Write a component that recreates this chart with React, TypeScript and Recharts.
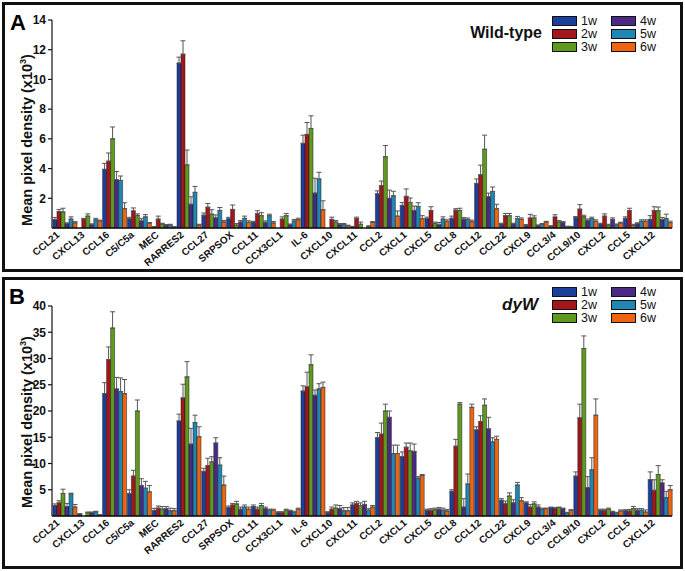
import { Bar, BarChart, ErrorBar, XAxis, YAxis } from "recharts";

const categories = [
  "CCL21", "CXCL13", "CCL16", "C5/C5a", "MEC", "RARRES2", "CCL27", "SRPSOX", "CCL11", "CCX3CL1",
  "IL-6", "CXCL10", "CXCL11", "CCL2", "CXCL1", "CXCL5", "CCL8", "CCL12", "CCL22", "CXCL9",
  "CCL3/4", "CCL9/10", "CXCL2", "CCL5", "CXCL12",
];

const weeks = ["1w", "2w", "3w", "4w", "5w", "6w"];
const weekColors = ["#1d3f9c", "#a3161a", "#5f9a1f", "#4b2a86", "#1f87b5", "#f0640f"];

// Wild-type means (x10^3)
const wt1w = [0.56, 0, 3.95, 0.62, 0.07, 11.1, 0.86, 0.62, 0.4, 0, 5.7, 0, 0.09, 2.3, 1.52, 0.63, 0.65, 3.0, 0.27, 0.18, 0.13, 0.72, 0.27, 0.65, 0.58];
const wt2w = [1.1, 0.6, 4.5, 1.15, 0.6, 11.7, 1.4, 1.25, 0.96, 0.6, 6.3, 0.58, 0.63, 2.86, 2.13, 1.18, 1.2, 3.58, 0.83, 0.67, 0.74, 1.27, 0.8, 1.18, 1.18];
const wt3w = [1.08, 0.8, 6.0, 0.85, 0.27, 4.25, 0.93, 0.2, 0.83, 0.83, 6.7, 0.4, 0.25, 4.8, 1.72, 0.3, 1.18, 5.3, 0.83, 0.67, 0.4, 0.76, 0.2, 0.2, 1.16];
const wt4w = [0.3, 0.23, 3.25, 0.48, 0.2, 1.6, 0.68, 0.4, 0.38, 0.22, 2.35, 0.25, 0, 2.0, 1.18, 0.22, 0.6, 2.1, 0.27, 0.16, 0.38, 0.51, 0.58, 0.3, 0.56];
const wt5w = [0.6, 0.55, 3.2, 0.75, 0.2, 2.4, 1.18, 0.65, 0.83, 0.47, 3.3, 0.25, 0.1, 2.17, 1.45, 0.6, 0.57, 2.46, 0.63, 0.25, 0.1, 0.63, 0.22, 0.45, 0.63];
const wt6w = [0.35, 0.48, 1.3, 0.32, 0.07, 0.2, 0.41, 0.38, 0.34, 0.56, 1.23, 0.16, 0.38, 0.8, 0.63, 0.45, 0.43, 1.3, 0.58, 0.4, 0.09, 0.45, 0.34, 0.45, 0.36];

// Wild-type error (upper whisker)
const wtErr1w = [0.15, 0, 0.4, 0.1, 0.03, 0.4, 0.15, 0.1, 0.05, 0, 0.55, 0, 0.02, 0.2, 0.2, 0.1, 0.15, 0.3, 0.05, 0.05, 0.02, 0.05, 0.05, 0.1, 0.25];
const wtErr2w = [0.15, 0.05, 0.55, 0.2, 0.2, 0.9, 0.25, 0.3, 0.2, 0.15, 0.8, 0.15, 0.1, 0.3, 0.5, 0.25, 0.1, 0.65, 0.15, 0.25, 0.15, 0.3, 0.15, 0.15, 0.25];
const wtErr3w = [0.25, 0.15, 0.8, 0.1, 0.05, 1.0, 0.3, 0.1, 0.2, 0.15, 0.85, 0.1, 0.15, 0.75, 0.3, 0.1, 0.15, 0.95, 0.15, 0.15, 0.1, 0.1, 0.05, 0.05, 0.25];
const wtErr4w = [0.05, 0.05, 0.55, 0.15, 0.03, 0.5, 0.2, 0.1, 0.1, 0.05, 1.0, 0.05, 0, 0.55, 0.3, 0.15, 0.1, 0.25, 0.05, 0.05, 0.05, 0.1, 0.1, 0.05, 0.15];
const wtErr5w = [0.15, 0.1, 0.3, 0.15, 0.05, 0.4, 0.2, 0.15, 0.1, 0.1, 0.45, 0.05, 0.05, 0.3, 0.25, 0.15, 0.1, 0.3, 0.15, 0.05, 0.02, 0.1, 0.05, 0.1, 0.3];
const wtErr6w = [0.08, 0.05, 0.4, 0.05, 0.02, 0.05, 0.1, 0.1, 0.1, 0.1, 0.6, 0.03, 0.05, 0.35, 0.2, 0.1, 0.1, 0.3, 0.1, 0.05, 0.02, 0.1, 0.05, 0.1, 0.1];

// dyW means (x10^3)
const dy1w = [2.0, 0.4, 23.3, 4.3, 1.05, 18.1, 8.5, 1.6, 1.8, 0.7, 23.8, 0.7, 2.1, 14.9, 11.3, 1.1, 4.7, 16.4, 3.0, 2.5, 1.6, 7.6, 1.1, 1.0, 6.9];
const dy2w = [2.5, 0, 29.8, 7.6, 1.5, 22.5, 9.6, 2.1, 1.3, 0.7, 24.6, 1.3, 2.4, 15.6, 13.1, 1.1, 13.3, 18.0, 2.35, 1.7, 1.5, 18.7, 1.1, 0.95, 4.9];
const dy3w = [4.3, 0.66, 35.8, 20.0, 1.3, 26.5, 10.3, 2.3, 2.0, 1.1, 28.8, 1.5, 2.0, 20.0, 12.4, 1.2, 21.3, 21.1, 3.8, 2.3, 1.6, 31.9, 1.3, 1.4, 7.9];
const dy4w = [1.8, 0.66, 24.2, 5.8, 1.4, 13.7, 13.9, 1.3, 1.4, 1.0, 23.0, 1.4, 2.2, 18.8, 12.3, 1.3, 1.7, 16.6, 2.5, 1.7, 1.4, 5.4, 0.8, 1.1, 6.3];
const dy5w = [4.2, 0.8, 23.7, 5.3, 1.0, 17.8, 9.7, 1.7, 1.1, 0.7, 24.2, 1.0, 1.1, 11.9, 7.2, 1.1, 6.1, 14.1, 5.9, 1.3, 0.6, 8.8, 0.6, 1.1, 3.5];
const dy6w = [1.7, 0.2, 23.3, 4.6, 1.0, 15.1, 5.9, 1.3, 1.1, 1.3, 24.5, 1.0, 1.7, 11.9, 7.7, 0.95, 20.7, 14.6, 2.9, 1.4, 1.1, 19.2, 0.95, 0.76, 5.0];

// dyW error (upper whisker)
const dyErr1w = [0.3, 0.05, 2.1, 0.7, 0.4, 1.3, 0.6, 0.3, 0.3, 0.1, 1.0, 0.1, 0.4, 1.0, 0.9, 0.2, 0.3, 0.6, 0.3, 0.2, 0.1, 0.8, 0.2, 0.2, 1.5];
const dyErr2w = [0.4, 0, 2.4, 1.1, 0.4, 2.6, 1.4, 0.3, 0.4, 0.1, 2.8, 0.4, 0.4, 2.1, 0.8, 0.3, 1.3, 1.1, 0.5, 0.5, 0.1, 2.6, 0.2, 0.3, 2.0];
const dyErr3w = [0.8, 0.1, 3.1, 2.1, 0.5, 2.9, 1.0, 0.5, 0.4, 0.2, 1.9, 0.6, 0.5, 1.3, 1.5, 0.3, 0.3, 1.2, 0.6, 0.4, 0.1, 2.4, 0.2, 0.4, 1.7];
const dyErr4w = [0.6, 0.1, 2.2, 1.3, 0.4, 3.0, 1.0, 0.4, 0.3, 0.1, 1.0, 0.6, 0.6, 1.2, 1.4, 0.3, 1.6, 2.2, 0.6, 0.4, 0.1, 2.1, 0.1, 0.3, 0.6];
const dyErr5w = [0.15, 0.1, 2.6, 1.3, 0.5, 1.4, 1.4, 0.4, 0.2, 0.2, 1.0, 0.6, 0.3, 1.6, 0.3, 0.4, 1.9, 0.8, 0.5, 0.2, 0.1, 2.3, 0.1, 0.3, 1.2];
const dyErr6w = [0.5, 0.05, 2.7, 1.2, 0.4, 1.9, 1.7, 0.4, 0.2, 0.2, 1.0, 0.6, 0.3, 1.6, 0.2, 0.3, 0.6, 0.6, 0.6, 0.1, 0.1, 3.1, 0.2, 0.4, 0.8];

const wtTicks = [2, 4, 6, 8, 10, 12, 14];
const dyTicks = [5, 10, 15, 20, 25, 30, 35, 40];

const FONT = "'Liberation Sans', Arial, sans-serif";

function buildRows(means: number[][], errs: number[][]) {
  return categories.map((name, i) => {
    const row: Record<string, any> = { name };
    weeks.forEach((w, k) => {
      row[w] = means[k][i];
      row[w + "_err"] = [0, errs[k][i]];
    });
    return row;
  });
}

const wtData = buildRows([wt1w, wt2w, wt3w, wt4w, wt5w, wt6w], [wtErr1w, wtErr2w, wtErr3w, wtErr4w, wtErr5w, wtErr6w]);
const dyData = buildRows([dy1w, dy2w, dy3w, dy4w, dy5w, dy6w], [dyErr1w, dyErr2w, dyErr3w, dyErr4w, dyErr5w, dyErr6w]);

function CategoryTick({ x, y, payload }: any) {
  const tx = x - 4;
  return (
    <text x={tx} y={y} transform={`rotate(-40 ${tx} ${y})`} textAnchor="end" fontSize={10} fontWeight="bold" fontFamily={FONT} fill="#111">
      {payload.value}
    </text>
  );
}

function PanelLegend({ title, italic, top }: { title: string; italic?: boolean; top: number }) {
  return (
    <div style={{ position: "absolute", left: 460, top, width: 215, height: 40, fontFamily: FONT, color: "#111" }}>
      <div
        style={{
          position: "absolute", right: italic ? 142 : 138, top: italic ? 9 : 8, lineHeight: "18px",
          fontSize: italic ? 17 : 16, fontWeight: "bold", fontStyle: italic ? "italic" : "normal",
        }}
      >
        {title}
      </div>
      {weeks.map((w, k) => (
        <div key={w} style={{ position: "absolute", left: k < 3 ? 87 : 146, top: (k % 3) * 13, height: 10, display: "flex", alignItems: "center" }}>
          <div style={{ width: 23, height: 8, background: weekColors[k], border: "1px solid #111" }} />
          <span style={{ fontSize: 12.5, marginLeft: 4, lineHeight: "10px" }}>{w}</span>
        </div>
      ))}
    </div>
  );
}

function YTitle({ cy }: { cy: number }) {
  return (
    <div
      style={{
        position: "absolute", left: 22 - 120, top: cy - 10, width: 240, height: 20, lineHeight: "20px",
        textAlign: "center", transform: "rotate(-90deg)", whiteSpace: "nowrap",
        fontSize: 14.5, fontWeight: "bold", fontFamily: FONT, color: "#111",
      }}
    >
      Mean pixel density (x10<sup style={{ fontSize: 9, lineHeight: 0 }}>3</sup>)
    </div>
  );
}

function Panel({ data, ticks, max, height, topPad, axisH }: any) {
  return (
    <BarChart width={675} height={height} data={data} margin={{ top: topPad, right: 8, left: 0, bottom: 0 }} barCategoryGap={1} barGap={0}>
      <XAxis dataKey="name" interval={0} tickLine={false} height={axisH} tick={<CategoryTick />} stroke="#111" strokeWidth={1.5} />
      <YAxis
        width={47}
        domain={[0, max]}
        ticks={ticks}
        tickSize={4}
        stroke="#111"
        strokeWidth={1.2}
        tick={{ fontSize: 12, fontWeight: "bold", fontFamily: FONT, fill: "#111" }}
      />
      {weeks.map((w, k) => (
        <Bar key={w} dataKey={w} fill={weekColors[k]} stroke="#1a1a1a" strokeWidth={0.5} isAnimationActive={false}>
          <ErrorBar dataKey={w + "_err"} width={2.5} stroke="#555" strokeWidth={1} isAnimationActive={false} />
        </Bar>
      ))}
    </BarChart>
  );
}

export default function App() {
  const box = { position: "absolute" as const, left: 2, width: 675, border: "3px solid #111", background: "#fff" };
  return (
    <div style={{ position: "absolute", left: 0, top: 0, width: 685, height: 571, background: "#fff" }}>
      <div style={{ ...box, top: 2, height: 264 }}>
        <div style={{ position: "absolute", left: 5, top: 5, fontSize: 22, fontWeight: "bold", fontFamily: FONT }}>A</div>
        <YTitle cy={135} />
        <Panel data={wtData} ticks={wtTicks} max={14} height={264} topPad={15} axisH={41} />
        <PanelLegend title="Wild-type" top={11} />
      </div>
      <div style={{ ...box, top: 277, height: 286 }}>
        <div style={{ position: "absolute", left: 4, top: 4, fontSize: 22, fontWeight: "bold", fontFamily: FONT }}>B</div>
        <YTitle cy={142} />
        <Panel data={dyData} ticks={dyTicks} max={40} height={286} topPad={26} axisH={50} />
        <PanelLegend title="dyW" italic top={7} />
      </div>
    </div>
  );
}
